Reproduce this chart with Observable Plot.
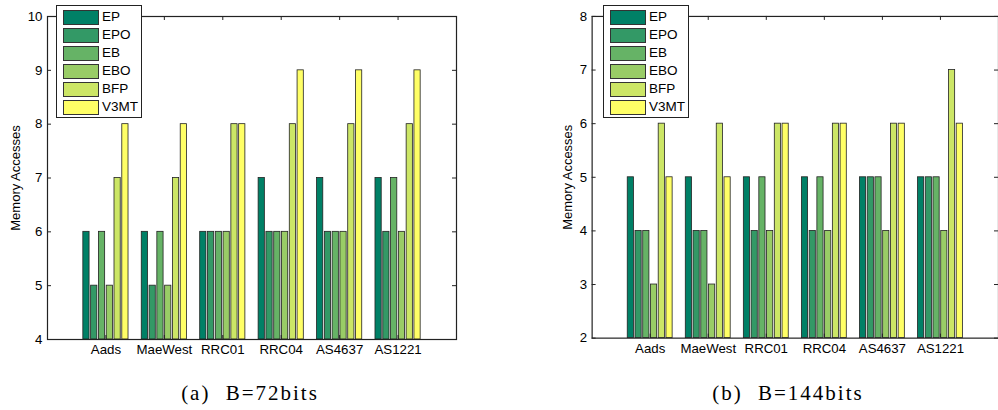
<!DOCTYPE html>
<html><head><meta charset="utf-8">
<script src="https://cdn.jsdelivr.net/npm/d3@7"></script>
<script src="https://cdn.jsdelivr.net/npm/@observablehq/plot@0.6"></script>
<style>
html,body{margin:0;padding:0;background:#fff;width:998px;height:410px;overflow:hidden;position:relative;font-family:"Liberation Sans",Arial,sans-serif;}
.panel{position:absolute;top:0;}
.legend{position:absolute;top:5px;width:86px;height:113px;border:1px solid #222;background:#fff;box-sizing:border-box;}
.legend .row{position:absolute;left:6px;height:14px;}
.legend .sw{position:absolute;left:0;top:0;width:34px;height:13px;border:1px solid #333;}
.legend .lb{position:absolute;left:39px;top:-1px;font-size:13.5px;line-height:16px;color:#000;white-space:nowrap;}
.caption{position:absolute;top:380px;width:300px;text-align:center;font-family:"Liberation Serif",serif;font-size:21px;letter-spacing:2px;word-spacing:8px;line-height:26px;color:#000;}
g[aria-label="y-axis label"] text{font-size:13px;}
</style></head><body>
<script>
const groups = ["Aads", "MaeWest", "RRC01", "RRC04", "AS4637", "AS1221"];
const series = ["EP", "EPO", "EB", "EBO", "BFP", "V3MT"];
const colors = ["#008066", "#339966", "#66b366", "#99cc66", "#cce666", "#ffff66"];

// rows = series (EP..V3MT), columns = groups (Aads..AS1221)
const values72 = [
  [6, 6, 6, 7, 7, 7],
  [5, 5, 6, 6, 6, 6],
  [6, 6, 6, 6, 6, 7],
  [5, 5, 6, 6, 6, 6],
  [7, 7, 8, 8, 8, 8],
  [8, 8, 8, 9, 9, 9]
];
const values144 = [
  [5, 5, 5, 5, 5, 5],
  [4, 4, 4, 4, 5, 5],
  [4, 4, 5, 5, 5, 5],
  [3, 3, 4, 4, 4, 4],
  [6, 6, 6, 6, 6, 7],
  [5, 5, 6, 6, 6, 6]
];
const yTicks72 = [4, 5, 6, 7, 8, 9, 10];
const yTicks144 = [2, 3, 4, 5, 6, 7, 8];
const captions = ["(a) B=72bits", "(b) B=144bits"];

function table(values) {
  const slot = 0.8 / series.length;
  return groups.flatMap((g, gi) => series.map((s, si) => {
    const x1 = gi + 1 - 0.4 + si * slot + slot * 0.1;
    return {group: g, series: s, value: values[si][gi], x1, x2: x1 + slot * 0.8};
  }));
}

function panel({values, yTicks, left, marginLeft, marginRight, labelOffset, legendLeft, caption, captionCenter}) {
  const W = 500, H = 370, mt = 16, mb = 31;
  const pw = W - marginLeft - marginRight, ph = H - mt - mb;
  const ylim = [yTicks[0], yTicks[yTicks.length - 1]];
  const xPos = groups.map((g, i) => i + 1);
  const chart = Plot.plot({
    width: W, height: H, marginLeft, marginRight, marginTop: mt, marginBottom: mb,
    x: {domain: [0, groups.length + 1]},
    y: {domain: ylim},
    color: {domain: series, range: colors},
    style: {fontFamily: "Liberation Sans, Arial, sans-serif", fontSize: "13.3px", color: "#000", background: "transparent", overflow: "visible"},
    marks: [
      Plot.rectY(table(values), {x1: "x1", x2: "x2", y1: ylim[0], y2: "value", fill: "series", stroke: "#222", strokeWidth: 0.8}),
      Plot.tickX(xPos, {x: d => d, insetTop: ph - 4, stroke: "#222"}),
      Plot.tickX(xPos, {x: d => d, insetBottom: ph - 4, stroke: "#222"}),
      Plot.tickY(yTicks, {y: d => d, insetRight: pw - 4, stroke: "#222"}),
      Plot.tickY(yTicks, {y: d => d, insetLeft: pw - 4, stroke: "#222"}),
      Plot.frame({stroke: "#222", strokeWidth: 1.2}),
      Plot.axisX({ticks: xPos, tickFormat: i => groups[i - 1], tickSize: 0, tickPadding: 5, label: null}),
      Plot.axisY({ticks: yTicks, tickFormat: d => String(d), tickSize: 0, tickPadding: 5, label: "Memory Accesses", labelAnchor: "center", labelOffset, labelArrow: "none"})
    ]
  });
  const wrap = document.createElement("div");
  wrap.className = "panel";
  wrap.style.left = left + "px";
  wrap.appendChild(chart);
  document.body.appendChild(wrap);

  const lg = document.createElement("div");
  lg.className = "legend";
  lg.style.left = legendLeft + "px";
  series.forEach((s, i) => {
    const r = document.createElement("div");
    r.className = "row";
    r.style.top = (4 + i * 18) + "px";
    r.innerHTML = `<div class="sw" style="background:${colors[i]}"></div><div class="lb">${s}</div>`;
    lg.appendChild(r);
  });
  document.body.appendChild(lg);

  const cap = document.createElement("div");
  cap.className = "caption";
  cap.style.left = (captionCenter - 150) + "px";
  cap.textContent = caption;
  document.body.appendChild(cap);
}

panel({values: values72, yTicks: yTicks72, left: 0, marginLeft: 47, marginRight: 44, labelOffset: 37, legendLeft: 56, caption: captions[0], captionCenter: 250});
panel({values: values144, yTicks: yTicks144, left: 500, marginLeft: 92, marginRight: 0, labelOffset: 29, legendLeft: 603, caption: captions[1], captionCenter: 788});
</script>
</body></html>
